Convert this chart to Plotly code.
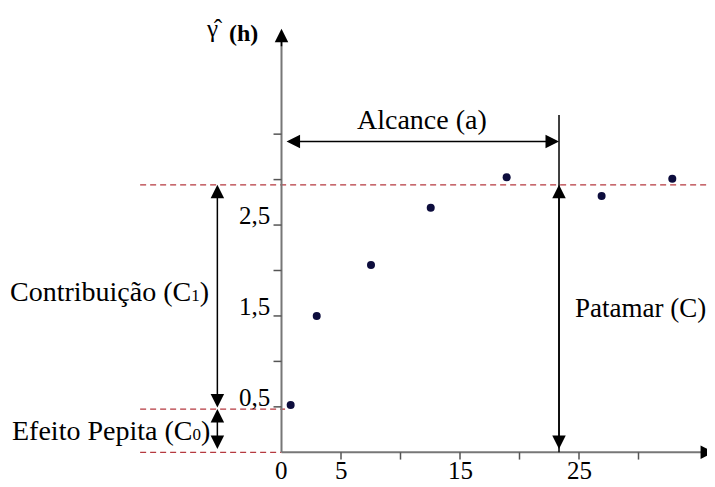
import plotly.graph_objects as go

# ---- data ----
h_lag = [0.77, 2.96, 7.52, 12.54, 18.92, 26.9, 32.84]
gamma = [0.52, 1.50, 2.06, 2.69, 3.025, 2.82, 3.01]
nugget = 0.476          # C0
sill = 2.943            # C
range_a = 23.32         # a
x_ticks = [5, 10, 15, 20, 25, 30]
x_tick_labels = {0: "0", 5: "5", 15: "15", 25: "25"}
y_ticks = [0.5, 1.0, 1.5, 2.0, 2.5, 3.0, 3.5]
y_tick_labels = {0.5: "0,5", 1.5: "1,5", 2.5: "2,5"}

# page has an 8px body margin; ranges compensate for it
X_RANGE = [-22.983, 37.101]
Y_RANGE = [-0.4697, 4.8878]
FONT = "'Liberation Serif', 'Times New Roman', 'DejaVu Serif', serif"
AXIS_GRAY = "#777777"
RED = "#b5393f"

fig = go.Figure()
fig.add_trace(go.Scatter(x=h_lag, y=gamma, mode="markers",
                         marker=dict(size=8, color="#0d0d3d"),
                         hoverinfo="skip"))

shapes = []
left_x = -11.88
for yv, x1 in [(sill, X_RANGE[1]), (nugget, 0.3), (0, 0)]:
    shapes.append(dict(type="line", xref="x", yref="y", x0=left_x, x1=x1, y0=yv, y1=yv,
                       line=dict(color=RED, width=1.2, dash="6px,4px")))
# axes
shapes.append(dict(type="line", xref="x", yref="y", x0=0, x1=0, y0=0, y1=4.55,
                   line=dict(color=AXIS_GRAY, width=2)))
shapes.append(dict(type="line", xref="x", yref="y", x0=0, x1=35.9, y0=0, y1=0,
                   line=dict(color=AXIS_GRAY, width=2)))
# ticks
for t in x_ticks:
    shapes.append(dict(type="line", xref="x", yref="y", x0=t, x1=t, y0=0, y1=-0.08,
                       line=dict(color="#555555", width=1.5)))
for t in y_ticks:
    shapes.append(dict(type="line", xref="x", yref="y", x0=-0.67, x1=0, y0=t, y1=t,
                       line=dict(color="#555555", width=1.5)))
# vertical line at the range
shapes.append(dict(type="line", xref="x", yref="y", x0=range_a, x1=range_a, y0=0, y1=3.71,
                   line=dict(color="black", width=1.5)))

ann = []
def arrow(x0, y0, x1, y1, both=True, color="black"):
    ann.append(dict(x=x1, y=y1, ax=x0, ay=y0, xref="x", yref="y", axref="x", ayref="y",
                    text="", showarrow=True, arrowhead=2, startarrowhead=2,
                    arrowside="end+start" if both else "end",
                    arrowwidth=1.5, arrowsize=1.8, startarrowsize=1.8,
                    arrowcolor=color))

arrow(0, 4.45, 0, 4.66, both=False)
arrow(35.7, 0, 36.35, 0, both=False)
arrow(0.3, 3.42, range_a, 3.42)          # Alcance
arrow(range_a, 0.02, range_a, sill)      # Patamar
arrow(-5.39, nugget, -5.39, sill)        # Contribuição
arrow(-5.39, 0.02, -5.39, nugget)        # Efeito pepita

def text(x, y, s, size=28, xanchor="center", bold=False):
    ann.append(dict(x=x, y=y, xref="x", yref="y", text=f"<b>{s}</b>" if bold else s,
                    showarrow=False, xanchor=xanchor, yanchor="middle",
                    font=dict(family=FONT, size=size, color="black")))

SUB = '<span style="font-size:17px">{}</span>'
text(11.78, 3.66, "Alcance (a)")
text(24.5, 1.59, "Patamar (C)", size=27, xanchor="left")
text(-5.95, 1.77, "Contribuição (C" + SUB.format("1") + ")", xanchor="right")
text(-5.8, 0.245, "Efeito Pepita (C" + SUB.format("0") + ")", xanchor="right")

for t, lab in y_tick_labels.items():
    text(-0.8, t + 0.105, lab, size=25, xanchor="right")
for t, lab in x_tick_labels.items():
    text(t, -0.195, lab, size=25)

text(36.0, -0.26, "h", size=25, xanchor="left", bold=True)
text(-5.69, 4.66, "\u03b3\u0302", size=25)
text(-4.6, 4.613, "(h)", size=24, xanchor="left", bold=True)

fig.update_layout(
    width=715, height=487,
    margin=dict(l=0, r=0, t=0, b=0),
    paper_bgcolor="white", plot_bgcolor="white",
    showlegend=False,
    xaxis=dict(range=X_RANGE, visible=False, fixedrange=True),
    yaxis=dict(range=Y_RANGE, visible=False, fixedrange=True),
    shapes=shapes, annotations=ann,
)
fig.write_html("out.html")
